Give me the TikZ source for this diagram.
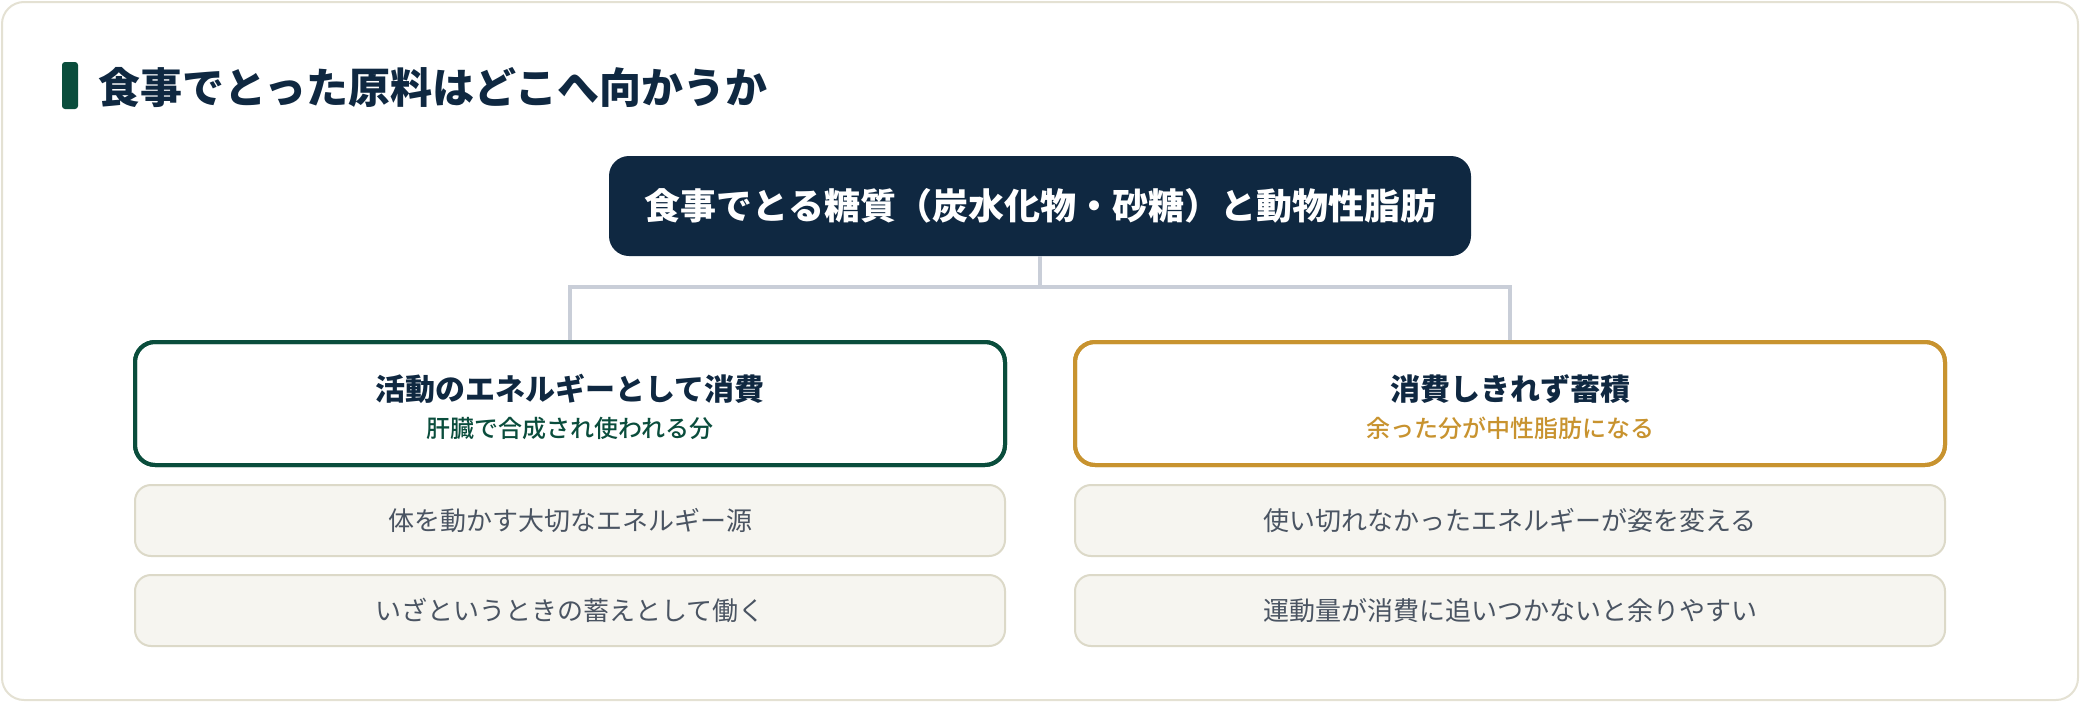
\documentclass[tikz,border=0pt]{standalone}
\usepackage{fontspec}
\setmainfont{Noto Sans CJK JP}
\newfontfamily\medfont{Noto Sans CJK JP Medium}
\definecolor{navy}{HTML}{0F2841}
\definecolor{dgreen}{HTML}{0A4D3C}
\definecolor{gold}{HTML}{C8932F}
\definecolor{connc}{HTML}{C9CED8}
\definecolor{itemfill}{HTML}{F6F5F0}
\definecolor{itemline}{HTML}{DCD9C8}
\definecolor{itemtext}{HTML}{4A5462}
\definecolor{frame}{HTML}{E4E1D3}
\begin{document}
\begin{tikzpicture}[x=1pt,y=-1pt,
  topbox/.style={fill=navy, rounded corners=20pt, minimum width=862pt, minimum height=100pt, inner sep=0pt},
  catbox/.style={draw=#1, fill=white, line width=4pt, rounded corners=20pt, minimum width=870pt, minimum height=123pt, inner sep=0pt},
  itembox/.style={draw=itemline, fill=itemfill, line width=2pt, rounded corners=16pt, minimum width=870pt, minimum height=71pt, inner sep=0pt,
    font=\fontsize{26}{30}\selectfont, text=itemtext},
  cattitle/.style={font=\bfseries\fontsize{30}{36}\selectfont, text=navy, inner sep=0pt},
  catsub/.style={font=\medfont\fontsize{24}{28}\selectfont, text=#1, inner sep=0pt},
  conn/.style={draw=connc, line width=3.5pt}
]
\useasboundingbox (0,0) rectangle (2080,702);
\draw[frame, line width=2pt, fill=white, rounded corners=22pt] (2,2) rectangle (2078,700);

% heading
\fill[dgreen, rounded corners=3pt] (62,62) rectangle (78,109);
\node[anchor=west, inner sep=0pt, text=navy, font=\bfseries\fontsize{42}{50}\selectfont] (head) at (98,88) {食事でとった原料はどこへ向かうか};

% top box
\node[topbox, text=white, font=\bfseries\fontsize{36}{42}\selectfont] (top) at (1040,206) {食事でとる糖質（炭水化物・砂糖）と動物性脂肪};

% category boxes
\node[catbox=dgreen] (lbox) at (570,403.5) {};
\node[catbox=gold] (rbox) at (1510,403.5) {};

\coordinate (bar) at (1040,287);
\draw[conn] (top.south) -- (bar) -| (lbox.north);
\draw[conn] (bar) -| (rbox.north);
\node[catbox=dgreen, fill=none] at (lbox) {};
\node[catbox=gold, fill=none] at (rbox) {};

\node[cattitle] (lt) at (570,389) {活動のエネルギーとして消費};
\node[catsub=dgreen] (ls) at (570,428) {肝臓で合成され使われる分};
\node[cattitle] (rt) at (1510,389) {消費しきれず蓄積};
\node[catsub=gold] (rs) at (1510,428) {余った分が中性脂肪になる};

% items
\node[itembox] (l1) at (570,520.5) {体を動かす大切なエネルギー源};
\node[itembox] (l2) at (570,610.5) {いざというときの蓄えとして働く};
\node[itembox] (r1) at (1510,520.5) {使い切れなかったエネルギーが姿を変える};
\node[itembox] (r2) at (1510,610.5) {運動量が消費に追いつかないと余りやすい};
\end{tikzpicture}
\end{document}
